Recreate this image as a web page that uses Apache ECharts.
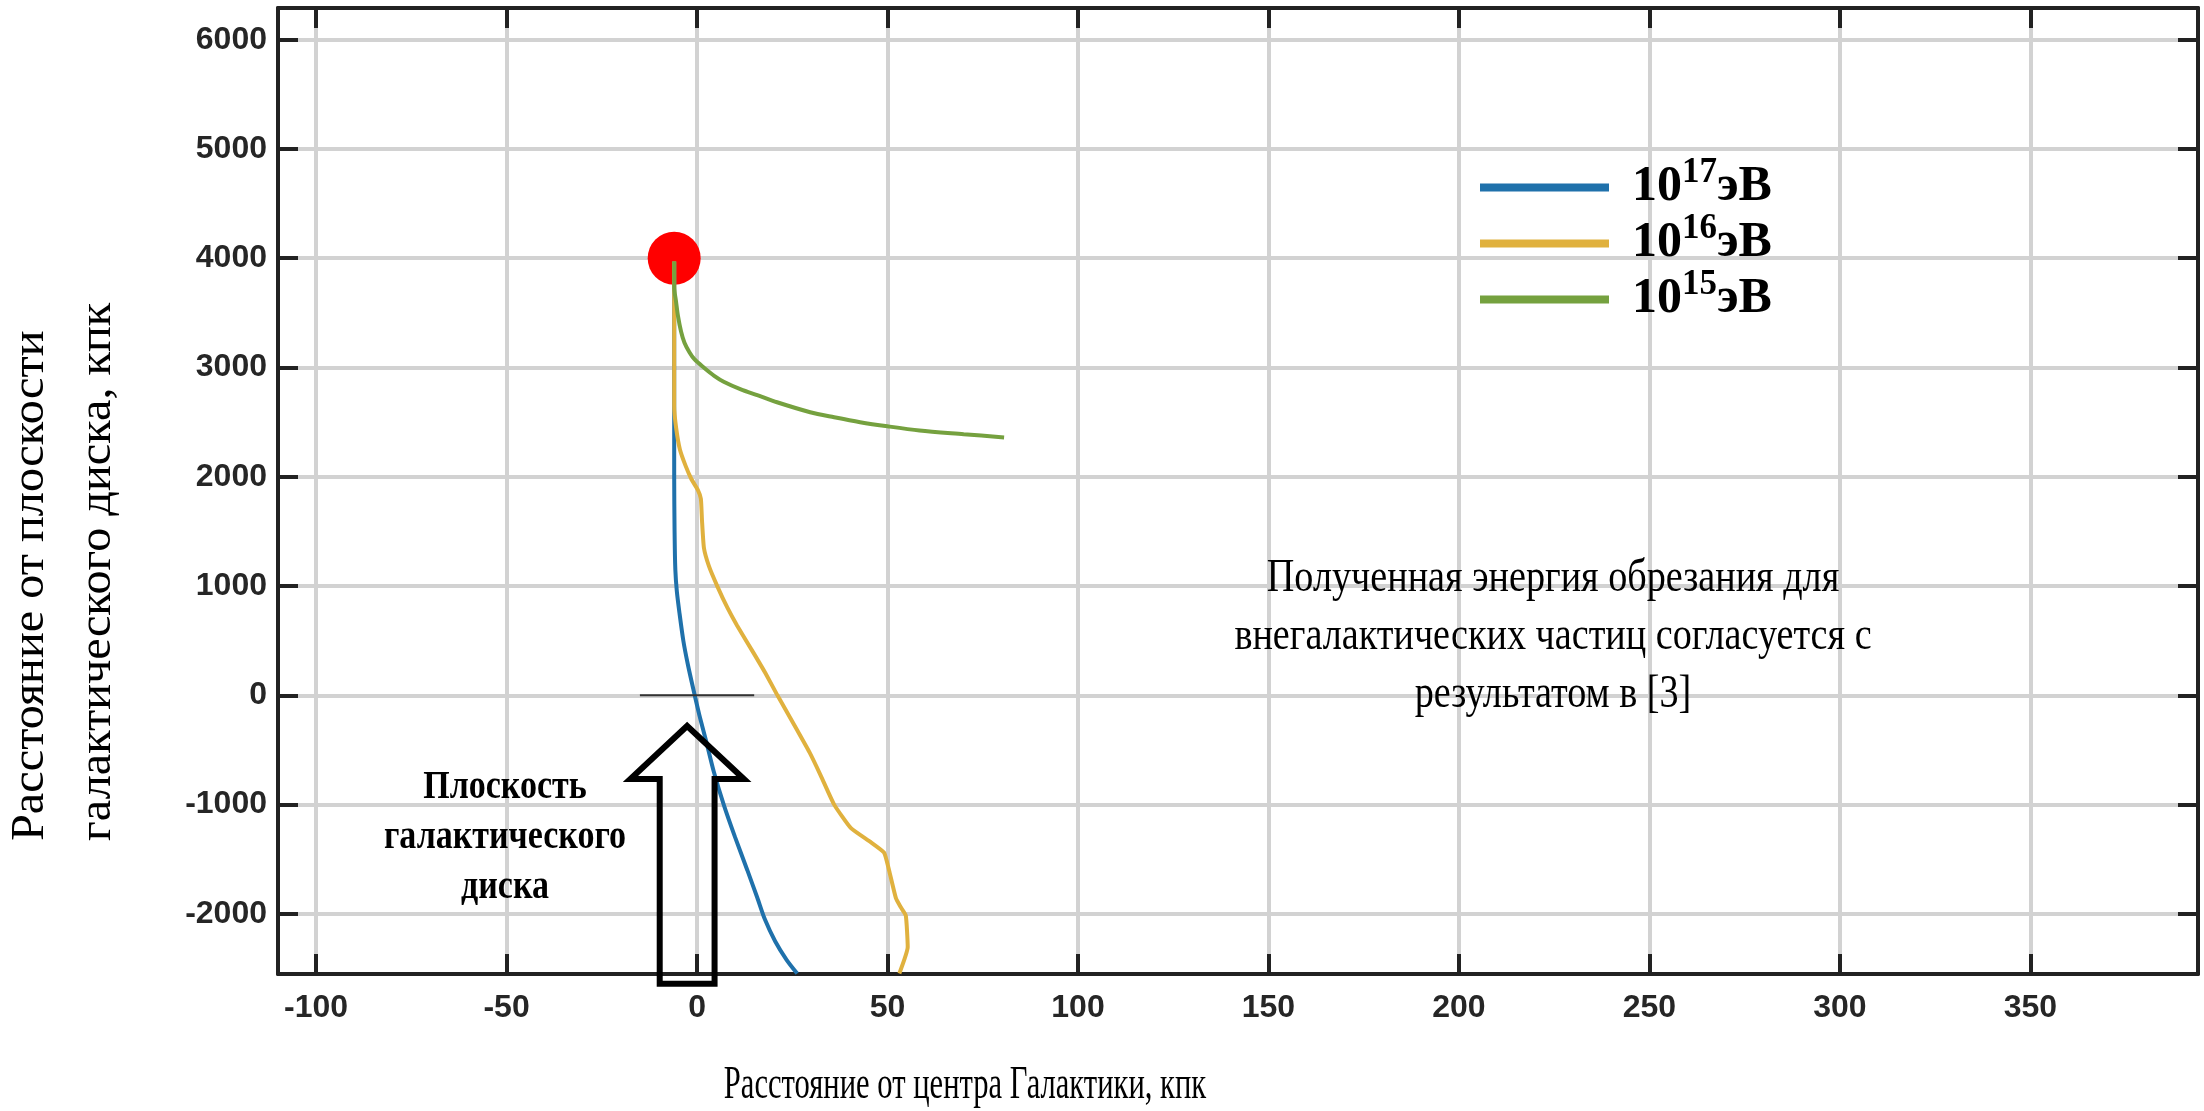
<!DOCTYPE html>
<html>
<head>
<meta charset="utf-8">
<script src="https://cdn.jsdelivr.net/npm/echarts@6/dist/echarts.min.js"></script>
<style>
  html, body { margin: 0; padding: 0; background: #fff; }
  #chart { width: 2204px; height: 1111px; }
</style>
</head>
<body>
<div id="chart"></div>
<script>
// Tick positions, kpc
const xTicks = [-100, -50, 0, 50, 100, 150, 200, 250, 300, 350];
const yTicks = [-2000, -1000, 0, 1000, 2000, 3000, 4000, 5000, 6000];

// Source of the particles
const sourceX = [-6];
const sourceY = [4000];

// Trajectory of a 10^17 eV particle
const e17X = [-6.0, -6.0, -6.0, -6.0, -5.9, -5.7, -5.3, -4.6, -3.6, -2.4, -1.0, 0.6, 2.4, 4.4, 7.0, 10.0, 13.2, 15.8, 17.8, 20.5, 23.5, 26.3];
const e17Y = [3970, 3400, 2700, 2000, 1500, 1150, 950, 750, 500, 280, 60, -180, -420, -700, -1000, -1300, -1600, -1850, -2050, -2250, -2420, -2546];

// Trajectory of a 10^16 eV particle
const e16X = [-6.0, -6.0, -5.5, -4.5, -3.0, -1.5, 0.2, 1.0, 1.3, 1.8, 3.1, 5.3, 8.0, 10.5, 14.9, 18.0, 21.1, 26.3, 29.5, 32.5, 36.0, 40.4, 45.6, 49.1, 50.4, 52.2, 53.5, 54.8, 55.3, 53.1];
const e16Y = [3970, 2650, 2450, 2250, 2100, 1980, 1880, 1800, 1600, 1350, 1184, 1000, 800, 640, 384, 200, 0, -320, -520, -736, -1000, -1216, -1344, -1440, -1600, -1856, -1940, -2016, -2304, -2546];

// Trajectory of a 10^15 eV particle
const e15X = [-6.0, -6.0, -5.5, -5.0, -4.2, -3.3, -2.0, -0.7, 1.75, 4.5, 7.0, 11.5, 16.0, 21.0, 29.7, 36.0, 42.8, 50.0, 58.4, 70.0, 80.6];
const e15Y = [3970, 3740, 3600, 3470, 3330, 3227, 3140, 3076, 3000, 2924, 2870, 2800, 2745, 2682, 2591, 2545, 2500, 2462, 2424, 2390, 2360];

// Galactic disk plane marker
const diskX = [-15, 15];
const diskY = [0, 0];

// Outline of the arrow pointing at the disk plane
const arrowX = [-2.6, 12.3, 4.6, 4.6, -9.8, -9.8, -17.5];
const arrowY = [-280, -765, -765, -2640, -2640, -765, -765];

// Legend: energy exponents
const seriesNames = ['e17', 'e16', 'e15'];
const energyExponents = ['17', '16', '15'];

const colors = { e17: '#1f71ab', e16: '#e0b13e', e15: '#75a13f' };
const pair = (xs, ys) => xs.map((x, i) => [x, ys[i]]);

const serif = '"Liberation Serif", "Times New Roman", serif';
const sans = '"Liberation Sans", Arial, sans-serif';
const frame = '#222';

function axis(position, ticks, min, max, labels) {
  return {
    type: 'value',
    position: position,
    min: min,
    max: max,
    axisLine: { show: true, onZero: false, lineStyle: { color: frame, width: 4 } },
    axisTick: { show: true, inside: true, length: 20, customValues: ticks,
                lineStyle: { color: frame, width: 4 } },
    axisLabel: { show: labels, customValues: ticks, color: '#262626',
                 formatter: v => String(v),
                 fontFamily: sans, fontWeight: 'bold', fontSize: 32,
                 margin: position === 'bottom' ? 18 : 11 },
    splitLine: { show: labels, lineStyle: { color: '#d2d2d2', width: 4 } }
  };
}

const chart = echarts.init(document.getElementById('chart'), null, { renderer: 'canvas' });

const lineSeries = [
  { name: 'e17', x: e17X, y: e17Y, smooth: 0.25 },
  { name: 'e16', x: e16X, y: e16Y, smooth: 0.15 },
  { name: 'e15', x: e15X, y: e15Y, smooth: 0.3 }
].map(s => ({
  name: s.name,
  type: 'line',
  data: pair(s.x, s.y),
  showSymbol: false,
  smooth: s.smooth,
  color: colors[s.name],
  lineStyle: { width: 4, color: colors[s.name] },
  z: 3,
  silent: true
}));

chart.setOption({
  backgroundColor: '#fff',
  animation: false,
  grid: { left: 278, right: 6, top: 8, bottom: 137, containLabel: false },
  xAxis: [
    axis('bottom', xTicks, -110, 394, true),
    axis('top', xTicks, -110, 394, false)
  ],
  yAxis: [
    axis('left', yTicks, -2550, 6290, true),
    axis('right', yTicks, -2550, 6290, false)
  ],
  legend: {
    orient: 'vertical',
    left: 1480,
    top: 155,
    padding: 0,
    itemWidth: 129,
    itemHeight: 8,
    itemGap: -9,
    icon: 'rect',
    selectedMode: false,
    data: seriesNames,
    formatter: name => '{n|10}{s|' + energyExponents[seriesNames.indexOf(name)] + '}{n|эВ}',
    textStyle: {
      padding: [0, 0, 0, 18],
      rich: {
        n: { fontFamily: serif, fontWeight: 'bold', fontSize: 50, lineHeight: 50, color: '#000' },
        // superscript: bottom padding lifts the exponent above the baseline
        s: { fontFamily: serif, fontWeight: 'bold', fontSize: 35, lineHeight: 50,
             padding: [0, 0, 30, 0], verticalAlign: 'middle', color: '#000' }
      }
    }
  },
  series: [
    {
      name: 'source',
      type: 'scatter',
      data: pair(sourceX, sourceY),
      symbolSize: 53,
      itemStyle: { color: '#ff0000', opacity: 1 },
      z: 2,
      silent: true
    },
    ...lineSeries,
    {
      name: 'disk',
      type: 'line',
      data: pair(diskX, diskY),
      showSymbol: false,
      lineStyle: { color: '#333', width: 2 },
      z: 4,
      silent: true
    },
    {
      name: 'arrow',
      type: 'custom',
      coordinateSystem: 'cartesian2d',
      clip: false,
      silent: true,
      z: 5,
      data: [[arrowX[0], arrowY[0]]],
      renderItem: (params, api) => ({
        type: 'polygon',
        shape: { points: arrowX.map((x, i) => api.coord([x, arrowY[i]])) },
        style: { fill: 'none', stroke: '#000', lineWidth: 6, lineJoin: 'miter' }
      })
    }
  ],
  graphic: [
    {
      type: 'text', x: 965, y: 1086, scaleX: 0.665, z: 100, silent: true,
      style: { text: 'Расстояние от центра Галактики, кпк', font: '46px ' + serif,
               fill: '#000', align: 'center', verticalAlign: 'middle' }
    },
    {
      type: 'text', x: 64, y: 841, rotation: Math.PI / 2, scaleX: 1.05, z: 100, silent: true,
      style: { text: 'Расстояние от плоскости\nгалактического диска, кпк', font: '46px ' + serif,
               lineHeight: 67, fill: '#000', align: 'left', verticalAlign: 'middle' }
    },
    {
      type: 'text', x: 505, y: 838, scaleX: 0.85, z: 100, silent: true,
      style: { text: 'Плоскость\nгалактического\nдиска', font: 'bold 40px ' + serif,
               lineHeight: 50, fill: '#000', align: 'center', verticalAlign: 'middle' }
    },
    {
      type: 'text', x: 1553, y: 637, scaleX: 0.83, z: 100, silent: true,
      style: { text: 'Полученная энергия обрезания для\nвнегалактических частиц согласуется с\nрезультатом в [3]',
               font: '46px ' + serif, lineHeight: 58, fill: '#000', align: 'center', verticalAlign: 'middle' }
    }
  ]
});
</script>
</body>
</html>
